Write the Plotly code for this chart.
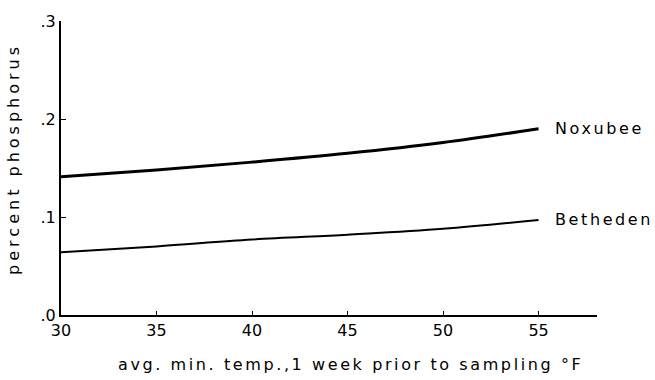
import plotly.graph_objects as go

temps = [30, 35, 40, 45, 50, 55]
noxubee = [0.141, 0.148, 0.156, 0.165, 0.176, 0.190]
betheden = [0.064, 0.070, 0.077, 0.082, 0.088, 0.097]
series_names = ["Noxubee", "Betheden"]
x_ticks = [30, 35, 40, 45, 50, 55]
x_tick_labels = ["30", "35", "40", "45", "50", "55"]
y_ticks = [0.0, 0.1, 0.2, 0.3]
y_tick_labels = [".0", ".1", ".2", ".3"]
x_title = "avg. min. temp.,1 week prior to sampling °F"
y_title = "percent phosphorus"

FONT = "DejaVu Sans"


def spaced(t, px):
    return '<span style="letter-spacing:%.1fpx">%s</span>' % (px, t)


fig = go.Figure()
fig.add_trace(go.Scatter(x=temps, y=noxubee, mode="lines", line=dict(color="black", width=3, shape="spline"), name=series_names[0]))
fig.add_trace(go.Scatter(x=temps, y=betheden, mode="lines", line=dict(color="black", width=2, shape="spline"), name=series_names[1]))

for name, ys in zip(series_names, [noxubee, betheden]):
    fig.add_annotation(x=temps[-1], y=ys[-1], xref="x", yref="y", text=spaced(name, 2.6), showarrow=False,
                       xanchor="left", yanchor="middle", xshift=14, font=dict(family=FONT, size=16, color="black"))

fig.add_annotation(x=0.541, y=-0.170, xref="paper", yref="paper", xanchor="center", yanchor="middle",
                   text=spaced(x_title, 2.6), showarrow=False, font=dict(family=FONT, size=16, color="black"))
fig.add_annotation(x=-0.0877, y=0.531, xref="paper", yref="paper", xanchor="center", yanchor="middle", textangle=-90,
                   text=spaced(y_title, 4.0), showarrow=False, font=dict(family=FONT, size=16, color="black"))

fig.update_layout(
    width=655, height=380,
    margin=dict(l=61, r=58, t=21, b=65),
    plot_bgcolor="white", paper_bgcolor="white",
    showlegend=False,
    font=dict(family=FONT, size=16, color="black"),
)
fig.update_xaxes(range=[30, 58.06], tickvals=x_ticks, ticktext=x_tick_labels, ticks="inside", ticklen=4,
                 tickcolor="black", showline=True, linecolor="black", linewidth=2, showgrid=False, zeroline=False,
                 tickfont=dict(family=FONT, size=16))
fig.update_yaxes(range=[0, 0.3], tickvals=y_ticks, ticktext=y_tick_labels, ticks="inside", ticklen=5,
                 tickcolor="black", showline=True, linecolor="black", linewidth=2, showgrid=False, zeroline=False,
                 tickfont=dict(family=FONT, size=16))

fig.write_html("out.html")
